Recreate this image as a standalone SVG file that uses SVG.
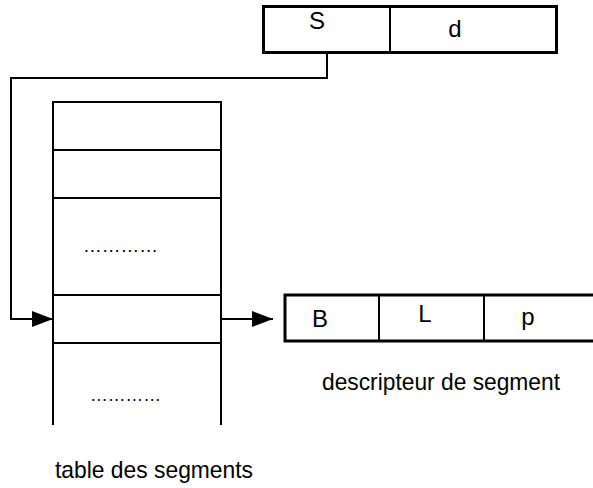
<svg xmlns="http://www.w3.org/2000/svg" width="593" height="488" viewBox="0 0 593 488">
<style>
.box{fill:#fff;stroke:#000;stroke-width:3}
.ln{stroke:#000;stroke-width:2;fill:none}
.t{font-family:"Liberation Sans",Arial,sans-serif;font-size:24px;fill:#000}
.c{stroke:#000;stroke-width:2;fill:none}
</style>
<defs>
<marker id="ah" markerWidth="21" markerHeight="16" refX="21" refY="8" orient="auto" markerUnits="userSpaceOnUse">
<path d="M0,0 L21,8 L0,16 Z" fill="#000"/>
</marker>
</defs>
<rect width="593" height="488" fill="#fff"/>
<g id="adresse">
<rect class="box" x="263.5" y="6.5" width="293" height="46"/>
<line class="ln" x1="390" y1="6" x2="390" y2="52"/>
<text class="t" x="317" y="29" text-anchor="middle">S</text>
<text class="t" x="455" y="37" text-anchor="middle">d</text>
</g>
<g id="table">
<polyline class="ln" points="53,425 53,102 221,102 221,425"/>
<line class="ln" x1="53" y1="150" x2="221" y2="150"/>
<line class="ln" x1="53" y1="198" x2="221" y2="198"/>
<line class="ln" x1="53" y1="295" x2="221" y2="295"/>
<line class="ln" x1="53" y1="343" x2="221" y2="343"/>
<text class="t" x="83" y="252" textLength="75" lengthAdjust="spacingAndGlyphs" style="font-size:19px">…………</text>
<text class="t" x="90" y="401" textLength="71" lengthAdjust="spacingAndGlyphs" style="font-size:19px">…………</text>
<text class="t" x="55" y="478" textLength="198" lengthAdjust="spacingAndGlyphs">table des segments</text>
</g>
<g id="descripteur">
<polyline class="box" points="595,295 285,295 285,341 595,341"/>
<line class="ln" x1="379" y1="295" x2="379" y2="341"/>
<line class="ln" x1="484" y1="295" x2="484" y2="341"/>
<text class="t" x="320" y="327" text-anchor="middle">B</text>
<text class="t" x="425" y="322" text-anchor="middle">L</text>
<text class="t" x="528" y="325" text-anchor="middle">p</text>
<text class="t" x="322" y="390" textLength="238" lengthAdjust="spacingAndGlyphs">descripteur de segment</text>
</g>
<g id="connecteurs">
<polyline class="c" points="327,52 327,78 11,78 11,319 53,319" marker-end="url(#ah)"/>
<line class="c" x1="221" y1="319" x2="273" y2="319" marker-end="url(#ah)"/>
</g>
</svg>
